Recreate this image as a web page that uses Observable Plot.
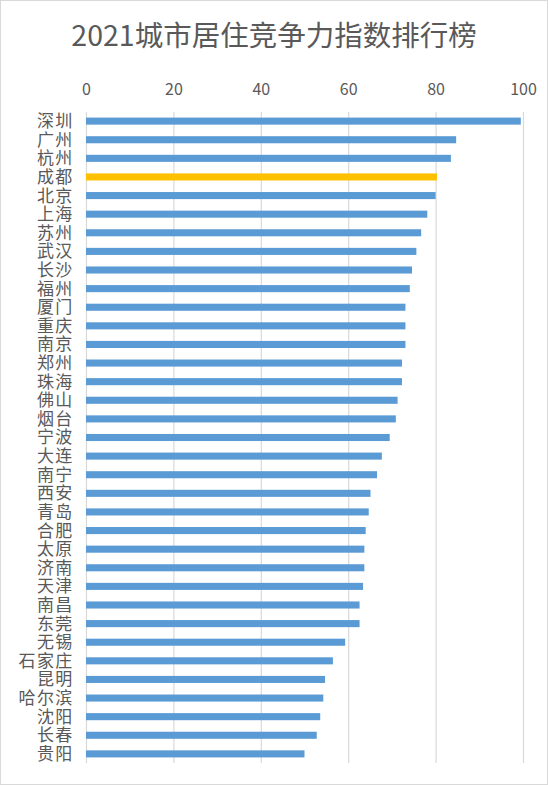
<!DOCTYPE html>
<html>
<head>
<meta charset="utf-8">
<script src="https://cdn.jsdelivr.net/npm/d3@7"></script>
<script src="https://cdn.jsdelivr.net/npm/@observablehq/plot@0.6"></script>
<style>
  html, body { margin: 0; padding: 0; background: #fff; }
  #wrap { position: relative; width: 548px; height: 785px; overflow: hidden; background: #fff; }
  #title { position: absolute; left: 0; top: 0; width: 548px; height: 68px; line-height: 68px;
           text-align: center; font-family: "Noto Sans CJK SC", sans-serif; font-size: 28.5px;
           color: #595959; white-space: nowrap; }
  #chart { position: absolute; left: 0; top: 64px; }
  #frame { position: absolute; left: 0; top: 0; width: 546px; height: 783px; border: 1px solid #d9d9d9; pointer-events: none; }
</style>
</head>
<body>
<div id="wrap">
  <div id="title">2021城市居住竞争力指数排行榜</div>
  <div id="chart"></div>
  <div id="frame"></div>
</div>
<script>
const cities = ["深圳","广州","杭州","成都","北京","上海","苏州","武汉","长沙","福州","厦门","重庆","南京","郑州","珠海","佛山","烟台","宁波","大连","南宁","西安","青岛","合肥","太原","济南","天津","南昌","东莞","无锡","石家庄","昆明","哈尔滨","沈阳","长春","贵阳"];
const values = [99.5,84.7,83.5,80.3,80.0,78.1,76.7,75.6,74.6,74.1,73.1,73.1,73.1,72.3,72.3,71.3,70.9,69.5,67.7,66.6,65.1,64.7,64.0,63.7,63.7,63.4,62.6,62.6,59.3,56.5,54.7,54.3,53.6,52.8,50.0];
const xTicks = [0,20,40,60,80,100];
const highlightCity = "成都";
const blue = "#5b9bd5";
const gold = "#ffc000";

const data = cities.map((city, i) => ({city, value: values[i]}));

const svg = Plot.plot({
  width: 548,
  height: 721,
  marginTop: 48,
  marginBottom: 22,
  marginLeft: 86,
  marginRight: 25,
  style: {fontFamily: "'Noto Sans CJK SC', sans-serif", background: "transparent"},
  x: {domain: [0, 100]},
  y: {domain: cities, paddingInner: 0.62, paddingOuter: 0.3, round: false},
  marks: [
    Plot.gridX(xTicks, {stroke: "#d9d9d9", strokeOpacity: 1, strokeWidth: 1.2}),
    Plot.barX(data.filter(d => d.city !== highlightCity), {x: "value", y: "city", fill: blue}),
    Plot.barX(data.filter(d => d.city === highlightCity), {x: "value", y: "city", fill: gold}),
    Plot.axisX(xTicks, {anchor: "top", tickSize: 0, tickPadding: 18, fontSize: 16, color: "#595959", label: null}),
    Plot.axisY({tickSize: 0, tickPadding: 13, fontSize: 17, color: "#595959", label: null})
  ]
});
d3.select(svg).selectAll('g[aria-label="y-axis tick label"] text').attr("letter-spacing", "1.3px");
document.getElementById("chart").appendChild(svg);
</script>
</body>
</html>
